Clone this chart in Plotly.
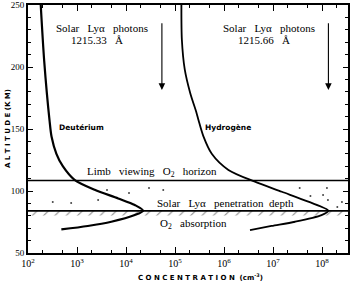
import numpy as np
import plotly.graph_objects as go

# ---- data ----
deut_alt = [250, 205, 157, 144, 130, 120, 109, 101, 94, 88.7, 84.1, 80.6, 75.2, 71.8, 69]
deut_conc = [182, 214, 275, 302, 380, 513, 891, 2290, 6920, 15100, 22400, 15100, 5010, 1660, 479]

hyd_alt = [250, 222, 198, 179, 163, 157, 144, 130, 117, 107.5, 99.4, 91.4, 84.1, 80.6, 75.2, 71.8, 68.5]
hyd_conc = [1.35e5, 1.38e5, 1.58e5, 2.04e5, 2.75e5, 3.02e5, 3.8e5, 5.62e5, 1.23e6, 4.27e6,
            1.51e7, 5.25e7, 1.35e8, 9.77e7, 2.82e7, 9.33e6, 3.39e6]

horizon_alt = 108.5
penetration_alt = 84.0
absorption_floor = 80.3

dots_conc = [320, 760, 2700, 4100, 11500, 29500, 57500, 3.5e7, 5.8e7, 1.05e8, 1.26e8, 1.32e8, 2.05e8, 2.55e8]
dots_alt = [91.1, 90.3, 92.7, 100.8, 98.4, 102.4, 100.8, 102.4, 96.0, 96.8, 102.4, 92.7, 87.1, 91.1]

arrow_conc = [5.4e4, 1.35e8]
arrow_top = 236.5
arrow_bottom = 181.5

x_tickvals = [1e2, 1e3, 1e4, 1e5, 1e6, 1e7, 1e8]
x_ticktext = ["10<sup>2</sup>", "10<sup>3</sup>", "10<sup>4</sup>", "10<sup>5</sup>",
              "10<sup>6</sup>", "10<sup>7</sup>", "10<sup>8</sup>"]
x_minor = [m * 10 ** e for e in range(2, 9) for m in (2, 5)]
y_tickvals = [50, 100, 150, 200, 250]

x_lo, x_hi = 2.0, 8.53

fig = go.Figure()

# hatched absorption band
fig.add_trace(go.Scatter(
    x=[10 ** x_lo, 10 ** x_hi, 10 ** x_hi, 10 ** x_lo],
    y=[penetration_alt, penetration_alt, absorption_floor, absorption_floor],
    fill="toself", mode="none", fillcolor="rgba(0,0,0,0)",
    fillpattern=dict(shape="/", size=8, solidity=0.12, fgcolor="black", bgcolor="white"),
    hoverinfo="skip", showlegend=False))

fig.add_trace(go.Scatter(x=deut_conc, y=deut_alt, mode="lines",
                         line=dict(color="black", width=2.2, shape="spline", smoothing=0.8),
                         showlegend=False))
fig.add_trace(go.Scatter(x=hyd_conc, y=hyd_alt, mode="lines",
                         line=dict(color="black", width=1.8, shape="spline", smoothing=0.8),
                         showlegend=False))
fig.add_trace(go.Scatter(x=dots_conc, y=dots_alt, mode="markers",
                         marker=dict(color="#444", size=2), showlegend=False))

# horizontal lines
for alt in (horizon_alt, penetration_alt):
    fig.add_shape(type="line", xref="paper", x0=0, x1=1, yref="y", y0=alt, y1=alt,
                  line=dict(color="black", width=1.6))

serif = "Liberation Serif"
sans = "DejaVu Sans"
sp = "\u00a0\u00a0\u00a0"

# arrows
for c in arrow_conc:
    fig.add_annotation(x=np.log10(c), y=arrow_bottom, ax=np.log10(c), ay=arrow_top,
                       xref="x", yref="y", axref="x", ayref="y", text="",
                       showarrow=True, arrowhead=2, arrowsize=1.2, arrowwidth=1.1,
                       arrowcolor="black")

def txt(x, y, s, font, size, bold=False):
    fig.add_annotation(x=x, y=y, xref="paper", yref="paper", text=("<b>%s</b>" % s) if bold else s,
                       showarrow=False, font=dict(family=font, size=size, color="black"),
                       xanchor="center", yanchor="middle")

W, H = 350, 281
L, R, T, B = 28, 2, 5, 28
pw, ph = W - L - R, H - T - B

def px(xp, yp):
    return (xp - L) / pw, 1 - (yp - T) / ph

txt(*px(102, 28), "Solar" + sp + "Lyα" + sp + "photons", serif, 11)
txt(*px(97, 40), "1215.33" + sp + "Å", serif, 11)
txt(*px(269, 28), "Solar" + sp + "Lyα" + sp + "photons", serif, 11)
txt(*px(264, 40), "1215.66" + sp + "Å", serif, 11)
txt(*px(81, 127), "Deutérium", sans, 7.5, bold=True)
txt(*px(228, 127), "Hydrogène", sans, 7.5, bold=True)
txt(*px(152, 172), "Limb" + sp + "viewing" + sp + "O<sub>2</sub>" + sp + "horizon", serif, 11)
txt(*px(225, 203), "Solar" + sp + "Lyα" + sp + "penetration" + "\u00a0\u00a0" + "depth", serif, 11)
txt(*px(193, 224), "O<sub>2</sub>" + sp + "absorption", serif, 11)

fig.add_annotation(x=px(200, 0)[0], y=-(277 - 253) / ph, xref="paper", yref="paper",
                   text="<b>C O N C E N T R A T I O N  (cm<sup>-3</sup>)</b>", showarrow=False,
                   font=dict(family=sans, size=7, color="black"), xanchor="center", yanchor="middle")
fig.add_annotation(x=-(28 - 8) / pw, y=0.5, xref="paper", yref="paper",
                   text="<b>A L T I T U D E (K M)</b>", showarrow=False, textangle=-90,
                   font=dict(family=sans, size=7, color="black"), xanchor="center", yanchor="middle")

fig.update_xaxes(type="log", range=[x_lo, x_hi], tickvals=x_tickvals, ticktext=x_ticktext,
                 ticks="inside", ticklen=6, tickwidth=1.2, tickcolor="black",
                 showline=True, linecolor="black", linewidth=2, mirror="ticks",
                 showgrid=False, zeroline=False, automargin=False,
                 tickfont=dict(family=serif, size=10, color="black"),
                 minor=dict(tickvals=x_minor, ticks="inside", ticklen=3, tickcolor="black", showgrid=False))
fig.update_yaxes(range=[50, 250], tickvals=y_tickvals,
                 ticks="inside", ticklen=5, tickwidth=1.2, tickcolor="black",
                 showline=True, linecolor="black", linewidth=2, mirror="ticks",
                 showgrid=False, zeroline=False, automargin=False,
                 tickfont=dict(family=serif, size=9, color="black"),
                 minor=dict(dtick=10, ticks="inside", ticklen=3, tickcolor="black", showgrid=False))

fig.update_layout(width=W, height=H, autosize=False,
                  margin=dict(l=L, r=R, t=T, b=B, pad=0, autoexpand=False),
                  paper_bgcolor="white", plot_bgcolor="white", showlegend=False)

fig.write_html("out.html")
